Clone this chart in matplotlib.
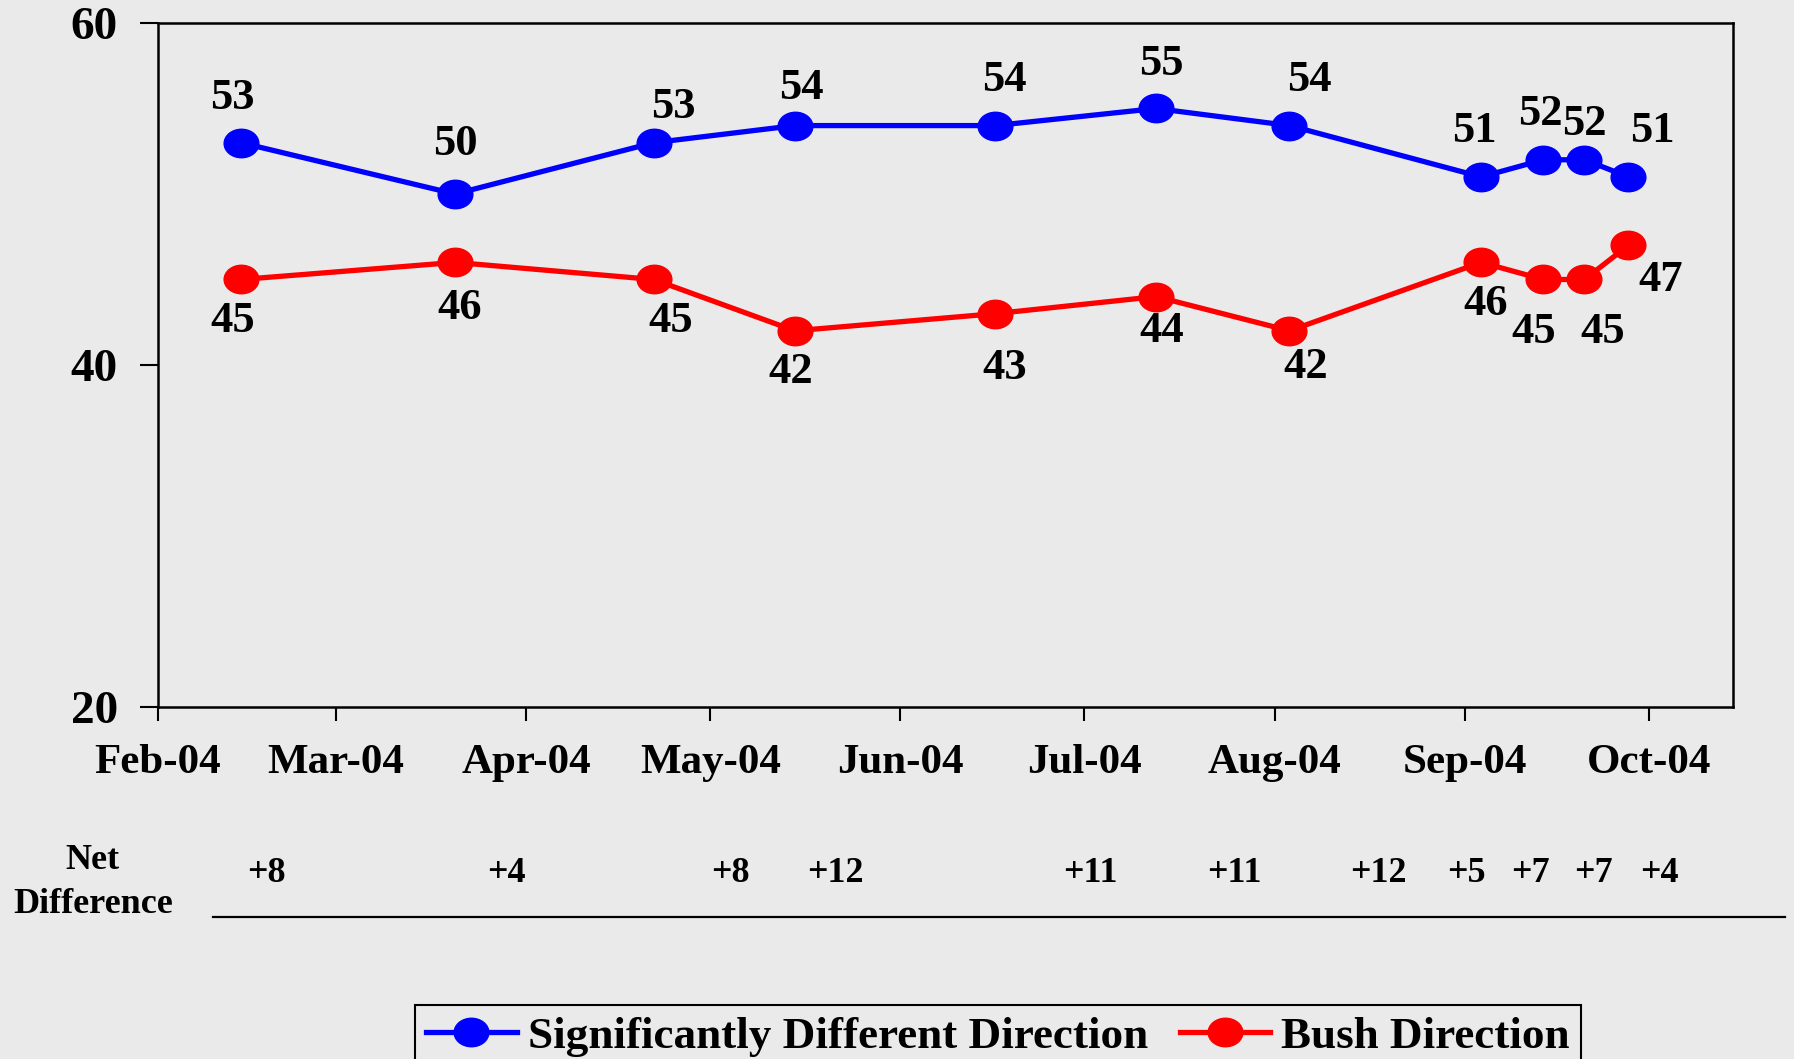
import datetime as dt
import matplotlib
matplotlib.use('Agg')
import matplotlib.pyplot as plt
import matplotlib.dates as mdates
from matplotlib.path import Path
from matplotlib.transforms import Affine2D

# dane
dates = [dt.datetime(2004, 2, 14, 12), dt.datetime(2004, 3, 20, 10), dt.datetime(2004, 4, 21, 19),
         dt.datetime(2004, 5, 14, 19), dt.datetime(2004, 6, 16, 10), dt.datetime(2004, 7, 12, 16),
         dt.datetime(2004, 8, 3, 10), dt.datetime(2004, 9, 3, 16), dt.datetime(2004, 9, 13, 19),
         dt.datetime(2004, 9, 20, 12), dt.datetime(2004, 9, 27, 16)]
different = [53, 50, 53, 54, 54, 55, 54, 51, 52, 52, 51]
bush = [45, 46, 45, 42, 43, 44, 42, 46, 45, 45, 47]
net_labels = ['+8', '+4', '+8', '+12', '+11', '+11', '+12', '+5', '+7', '+7', '+4']

# polozenie etykiet (punkty / ulamki figury)
off_blue = [(-6, 32), (0, 36), (14, 26), (5, 27), (7, 33), (4, 32), (14, 33), (-5, 33), (-2, 33), (0, 26), (17, 33)]
off_red = [(-6, -30), (3, -33), (12, -30), (-3, -30), (7, -39), (4, -25), (12, -26), (3, -30), (-7, -38), (13, -38), (23, -25)]
net_x = [0.1486, 0.2825, 0.4069, 0.4654, 0.6076, 0.6881, 0.7685, 0.8176, 0.8533, 0.8884, 0.9247]

bg = '#EAEAEA'
serif = 'Liberation Serif'
plt.rcParams['font.family'] = serif
plt.rcParams['font.weight'] = 'bold'

fig = plt.figure(figsize=(17.94, 10.59), dpi=100, facecolor=bg)
ax = fig.add_axes([0.0881, 0.3324, 0.966 - 0.0881, 0.9783 - 0.3324], facecolor=bg)

ell = Path.unit_circle().transformed(Affine2D().scale(1, 0.82))

ax.plot(dates, different, color='#0000FF', lw=3.8, marker=ell, markersize=25,
        label='Significantly Different Direction', zorder=3)
ax.plot(dates, bush, color='#FF0000', lw=3.8, marker=ell, markersize=25,
        label='Bush Direction', zorder=3)

for d, v, o in zip(dates, different, off_blue):
    ax.annotate(str(v), (d, v), xytext=o, textcoords='offset points', ha='center', va='center',
                fontsize=32, fontweight='bold')
for d, v, o in zip(dates, bush, off_red):
    ax.annotate(str(v), (d, v), xytext=o, textcoords='offset points', ha='center', va='center',
                fontsize=32, fontweight='bold')

ax.set_ylim(20, 60)
ax.set_yticks([20, 40, 60])
ax.set_xlim(dt.datetime(2004, 2, 1), dt.datetime(2004, 10, 14, 17))
ax.xaxis.set_major_locator(mdates.MonthLocator())
ax.xaxis.set_major_formatter(mdates.DateFormatter('%b-%y'))

for s in ax.spines.values():
    s.set_linewidth(1.8)
    s.set_color('black')
ax.tick_params(axis='y', direction='out', length=13, width=1.5, pad=16, labelsize=34)
ax.tick_params(axis='x', direction='out', length=10, width=1.5, pad=17, labelsize=31)
for lab in ax.get_xticklabels() + ax.get_yticklabels():
    lab.set_fontweight('bold')

# roznica netto
fig.text(0.0518, 0.1877, 'Net', ha='center', va='center', fontsize=26, fontweight='bold')
fig.text(0.0518, 0.146, 'Difference', ha='center', va='center', fontsize=26, fontweight='bold')
for x, t in zip(net_x, net_labels):
    fig.text(x, 0.175, t, ha='center', va='center', fontsize=26, fontweight='bold')
fig.add_artist(plt.Line2D([0.1187, 0.995], [0.134, 0.134], color='black', lw=1.6,
                          transform=fig.transFigure))

leg = fig.legend(loc='upper center', bbox_to_anchor=(0.5563, 0.051), ncol=2, frameon=True,
                 fancybox=False, edgecolor='black', facecolor=bg, framealpha=1,
                 prop={'family': serif, 'weight': 'bold', 'size': 32.5},
                 handlelength=2.0, handletextpad=0.25, columnspacing=0.7, borderpad=0.25,
                 borderaxespad=0, markerscale=1.0)
leg.get_frame().set_linewidth(1.5)

fig.savefig('out.png', dpi=100, facecolor=bg)
